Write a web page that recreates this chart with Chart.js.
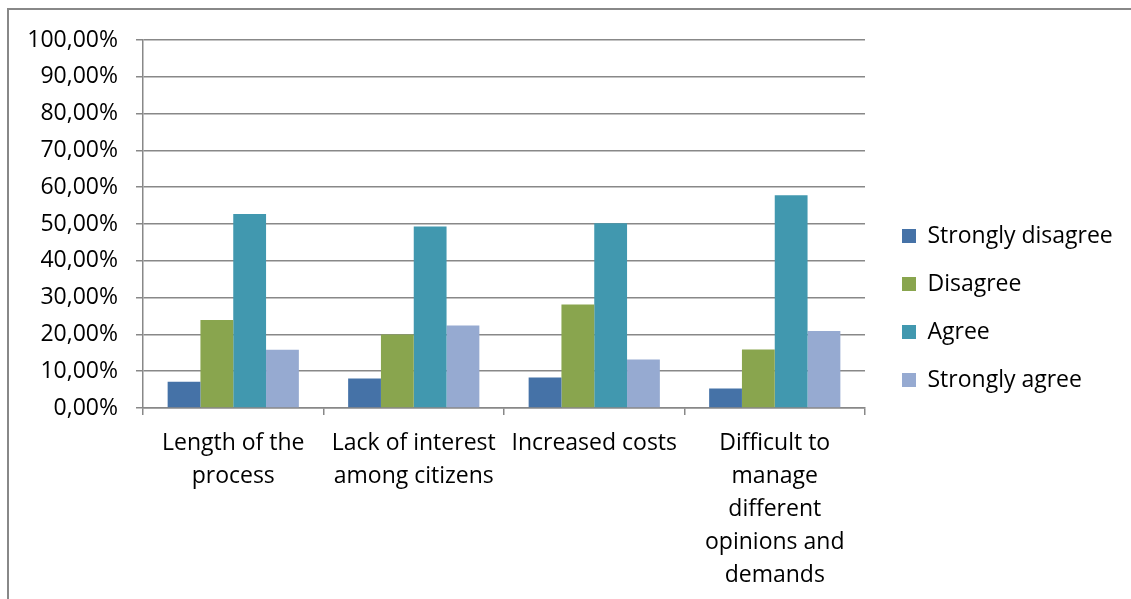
<!DOCTYPE html>
<html>
<head>
<meta charset="utf-8">
<script src="https://cdn.jsdelivr.net/npm/chart.js@4.4.1/dist/chart.umd.min.js"></script>
<style>
  html, body { margin: 0; padding: 0; background: #fff; }
  #frame { position: absolute; left: 7px; top: 8px; width: 1140px; height: 600px;
           border-left: 2px solid #888; border-top: 2px solid #888; }
  #wrap { position: absolute; left: 0; top: 0; width: 1131px; height: 599px; }
</style>
</head>
<body>
<div id="frame"></div>
<div id="wrap"><canvas id="c" width="1131" height="599"></canvas></div>
<script>
const categories = [
  ["Length of the", "process"],
  ["Lack of interest", "among citizens"],
  ["Increased costs"],
  ["Difficult to", "manage", "different", "opinions and", "demands"]
];
const seriesNames = ["Strongly disagree", "Disagree", "Agree", "Strongly agree"];
const stronglyDisagree = [7.1, 8.0, 8.3, 5.3];
const disagree = [23.9, 20.0, 28.1, 15.9];
const agree = [52.7, 49.3, 50.2, 57.8];
const stronglyAgree = [15.8, 22.4, 13.2, 20.9];
const yTicks = [0, 10, 20, 30, 40, 50, 60, 70, 80, 90, 100];

const colors = ["#4572A7", "#89A54E", "#4198AF", "#96AAD1"];
const seriesValues = [stronglyDisagree, disagree, agree, stronglyAgree];

const FONT = "'Open Sans', sans-serif";
const gridColor = "#888888";

const legendPlacer = {
  id: "legendPlacer",
  afterInit(chart) {
    const lg = chart.legend;
    const orig = lg.fit;
    lg.fit = function () { orig.call(this); this.width = 266; };
  },
  afterLayout(chart) {
    const lg = chart.legend;
    const w = lg.width;
    lg.left = 877; lg.right = lg.left + w;
    lg.top = 199.5; lg.bottom = 599;
  }
};

new Chart(document.getElementById("c"), {
  type: "bar",
  data: {
    labels: categories,
    datasets: seriesNames.map((n, i) => ({
      label: n,
      data: seriesValues[i],
      backgroundColor: colors[i],
      borderWidth: 0,
      categoryPercentage: 0.727,
      barPercentage: 1.0
    }))
  },
  options: {
    responsive: false,
    animation: false,
    layout: { padding: { left: 0, right: 0, top: 40, bottom: 0 } },
    plugins: {
      tooltip: { enabled: false },
      legend: {
        position: "right",
        align: "start",
        labels: {
          boxWidth: 14,
          boxHeight: 14,
          padding: 25,
          color: "#000",
          font: { family: FONT, size: 23 }
        }
      }
    },
    scales: {
      y: {
        min: 0,
        max: 100,
        afterFit(s) { s.width = 143; },
        afterBuildTicks(s) { s.ticks = yTicks.map(v => ({ value: v })); },
        ticks: {
          color: "#000",
          padding: 18,
          font: { family: FONT, size: 23 },
          callback: v => v.toFixed(2).replace(".", ",") + "%"
        },
        grid: { color: gridColor, lineWidth: 1.5, tickLength: 7 },
        border: { color: gridColor, width: 1.5 }
      },
      x: {
        offset: true,
        afterFit(s) { s.height = 191; },
        ticks: {
          color: "#000",
          padding: 12,
          maxRotation: 0,
          autoSkip: false,
          font: { family: FONT, size: 23, lineHeight: 1.43 }
        },
        grid: { color: gridColor, lineWidth: 1.5, tickLength: 7, drawOnChartArea: false, offset: true },
        border: { color: gridColor, width: 1.5 }
      }
    }
  },
  plugins: [legendPlacer]
});
</script>
</body>
</html>
